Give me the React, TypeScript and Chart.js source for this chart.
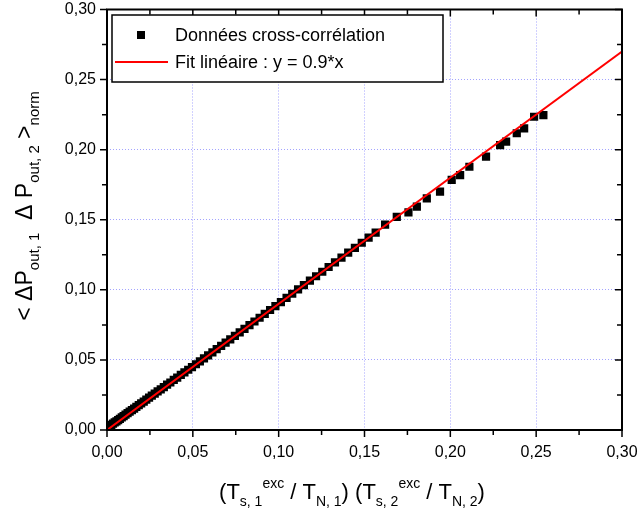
import React, { useEffect, useRef } from 'react';
import { Chart, registerables } from 'chart.js';

Chart.register(...registerables);

// ---- data ----
const dataX = [
  0.0005, 0.0015, 0.0025, 0.0035, 0.0045, 0.0055, 0.0065, 0.0075, 0.0086, 0.0097,
  0.0108, 0.012, 0.0132, 0.0145, 0.0158, 0.0171, 0.0185, 0.0199, 0.0214, 0.0229,
  0.0245, 0.0261, 0.0278, 0.0295, 0.0313, 0.0331, 0.035, 0.0369, 0.0389, 0.0409,
  0.043, 0.0451, 0.0473, 0.0495, 0.0518, 0.0541, 0.0565, 0.0589, 0.0614, 0.0639,
  0.0665, 0.0691, 0.0718, 0.0745, 0.0773, 0.0801, 0.083, 0.0859, 0.0889, 0.0919,
  0.095, 0.0981, 0.1013, 0.1046, 0.1079, 0.1113, 0.1147, 0.1182, 0.1218, 0.1254,
  0.1291, 0.1328, 0.1366, 0.1405, 0.1444, 0.1484, 0.1524, 0.1565, 0.162, 0.1688,
  0.1756, 0.1805, 0.1863, 0.194, 0.2008, 0.2057, 0.2111, 0.2208, 0.229, 0.2325,
  0.2387, 0.243, 0.2488, 0.2542,
];
const dataY = [
  0.002, 0.0028, 0.0037, 0.0045, 0.0054, 0.0062, 0.0071, 0.008, 0.009, 0.0099,
  0.0109, 0.012, 0.0131, 0.0142, 0.0153, 0.0165, 0.0177, 0.019, 0.0203, 0.0216,
  0.0231, 0.0245, 0.026, 0.0275, 0.029, 0.0306, 0.0323, 0.0339, 0.0357, 0.0374,
  0.0393, 0.0411, 0.043, 0.0449, 0.0469, 0.049, 0.0511, 0.0532, 0.0554, 0.0577,
  0.06, 0.0623, 0.0647, 0.0672, 0.0697, 0.0722, 0.0748, 0.0774, 0.0801, 0.0828,
  0.0856, 0.0884, 0.0913, 0.0942, 0.0972, 0.1003, 0.1033, 0.1065, 0.1097, 0.1129,
  0.1163, 0.1196, 0.123, 0.1265, 0.13, 0.1336, 0.1372, 0.1408, 0.1465, 0.152,
  0.1553, 0.1593, 0.1653, 0.17, 0.1784, 0.1819, 0.1878, 0.195, 0.2033, 0.2057,
  0.2117, 0.2152, 0.2235, 0.2247,
];
const fitX = [0, 0.3];
const fitY = [0, 0.27];
const seriesLabels = ['Données cross-corrélation', 'Fit linéaire : y = 0.9*x'];
const axisMin = 0;
const axisMax = 0.3;
const majorStep = 0.05;
const minorStep = 0.025;

type Seg = { t: string; k: 'n' | 'sub' | 'sup' };
const xTitle: Seg[] = [
  { t: '(T', k: 'n' }, { t: 's, 1', k: 'sub' }, { t: 'exc', k: 'sup' },
  { t: ' / T', k: 'n' }, { t: 'N, 1', k: 'sub' }, { t: ') (T', k: 'n' },
  { t: 's, 2', k: 'sub' }, { t: 'exc', k: 'sup' }, { t: ' / T', k: 'n' },
  { t: 'N, 2', k: 'sub' }, { t: ')', k: 'n' },
];
const yTitle: Seg[] = [
  { t: '< ΔP', k: 'n' }, { t: 'out, 1', k: 'sub' }, { t: '  Δ P', k: 'n' },
  { t: 'out, 2', k: 'sub' }, { t: ' >', k: 'n' }, { t: 'norm', k: 'sub' },
];

const FAMILY = "'Liberation Sans', Arial, sans-serif";

function drawRich(ctx: CanvasRenderingContext2D, segs: Seg[], cx: number, cy: number, rot: number, big: number, small: number) {
  const fontFor = (k: string) => `${k === 'n' ? big : small}px ${FAMILY}`;
  let total = 0;
  const widths = segs.map((s) => {
    ctx.font = fontFor(s.k);
    const w = ctx.measureText(s.t).width;
    total += w;
    return w;
  });
  ctx.save();
  ctx.translate(cx, cy);
  ctx.rotate(rot);
  ctx.fillStyle = '#000';
  ctx.textBaseline = 'alphabetic';
  ctx.textAlign = 'left';
  let x = -total / 2;
  segs.forEach((s, i) => {
    ctx.font = fontFor(s.k);
    const dy = s.k === 'sub' ? big * 0.3 : s.k === 'sup' ? -big * 0.5 : 0;
    ctx.fillText(s.t, x, dy);
    x += widths[i];
  });
  ctx.restore();
}

const framePlugin = {
  id: 'frameTicks',
  afterDatasetsDraw(chart: any) {
    const { ctx, chartArea: a, scales } = chart;
    const xs = scales.x;
    const ys = scales.y;
    ctx.save();
    ctx.strokeStyle = '#000';
    ctx.lineWidth = 1.5;
    const n = Math.round((axisMax - axisMin) / minorStep);
    for (let i = 0; i <= n; i++) {
      const v = axisMin + i * minorStep;
      const len = i % Math.round(majorStep / minorStep) === 0 ? 7 : 5;
      const px = xs.getPixelForValue(v);
      const py = ys.getPixelForValue(v);
      ctx.beginPath();
      ctx.moveTo(px, a.bottom); ctx.lineTo(px, a.bottom + len);
      ctx.moveTo(px, a.top); ctx.lineTo(px, a.top + len);
      ctx.moveTo(a.left, py); ctx.lineTo(a.left - len, py);
      ctx.moveTo(a.right, py); ctx.lineTo(a.right - len, py);
      ctx.stroke();
    }
    ctx.lineWidth = 2;
    ctx.strokeRect(a.left, a.top, a.right - a.left, a.bottom - a.top);
    ctx.restore();
  },
  afterDraw(chart: any) {
    const { ctx, chartArea: a } = chart;
    // legend
    const ds = chart.data.datasets;
    const bx = a.left + 5;
    const by = a.top + 5.5;
    const bw = 331;
    const bh = 67;
    ctx.save();
    ctx.fillStyle = '#fff';
    ctx.fillRect(bx, by, bw, bh);
    ctx.strokeStyle = '#000';
    ctx.lineWidth = 1.5;
    ctx.strokeRect(bx, by, bw, bh);
    ctx.font = `18px ${FAMILY}`;
    ctx.textBaseline = 'middle';
    ctx.textAlign = 'left';
    ctx.fillStyle = '#000';
    const r1 = by + 20;
    const r2 = by + 47;
    const pts = ds.find((d: any) => !d.showLine);
    const line = ds.find((d: any) => d.showLine);
    ctx.fillStyle = pts.backgroundColor;
    ctx.fillRect(bx + 25, r1 - 4, 8, 8);
    ctx.fillStyle = '#000';
    ctx.fillText(pts.label, bx + 63, r1 + 1);
    ctx.strokeStyle = line.borderColor;
    ctx.lineWidth = 2;
    ctx.beginPath();
    ctx.moveTo(bx + 3, r2);
    ctx.lineTo(bx + 56, r2);
    ctx.stroke();
    ctx.fillText(line.label, bx + 63, r2 + 1);
    ctx.restore();

    // axis titles
    drawRich(ctx, xTitle, 352, 499, 0, 22, 14);
    drawRich(ctx, yTitle, 32, 206, -Math.PI / 2, 23, 15);
  },
};

const fmt = (v: any) => Number(v).toFixed(2).replace('.', ',');

export default function App() {
  const ref = useRef<HTMLCanvasElement>(null);
  useEffect(() => {
    document.body.style.margin = '0';
    const canvas = ref.current!;
    const gridColor = 'rgba(140,140,255,0.8)';
    const chart = new Chart(canvas, {
      type: 'scatter',
      data: {
        datasets: [
          {
            label: seriesLabels[1],
            data: fitX.map((x, i) => ({ x, y: fitY[i] })),
            showLine: true,
            borderColor: '#ff0000',
            backgroundColor: '#ff0000',
            borderWidth: 2,
            pointRadius: 0,
            order: 0,
          },
          {
            label: seriesLabels[0],
            data: dataX.map((x, i) => ({ x, y: dataY[i] })),
            showLine: false,
            pointStyle: 'rect',
            pointRadius: 5.8,
            backgroundColor: '#000',
            borderColor: '#000',
            borderWidth: 0,
            order: 1,
          },
        ] as any,
      },
      options: {
        responsive: false,
        animation: false,
        layout: { padding: { top: 9.5, right: 16, left: 0, bottom: 0 } },
        plugins: { legend: { display: false }, tooltip: { enabled: false } },
        scales: {
          x: {
            type: 'linear',
            min: axisMin,
            max: axisMax,
            afterFit: (s: any) => {
              s.height = 83;
              s.paddingLeft = 0;
              s.paddingRight = 0;
              s.paddingTop = 0;
              s.paddingBottom = 0;
            },
            grid: { color: gridColor, lineWidth: 1, drawTicks: false },
            border: { display: false, dash: [1, 2] },
            ticks: {
              stepSize: majorStep,
              padding: 13,
              color: '#000',
              font: { family: FAMILY, size: 16 },
              callback: fmt,
              maxRotation: 0,
              autoSkip: false,
            },
          },
          y: {
            type: 'linear',
            min: axisMin,
            max: axisMax,
            afterFit: (s: any) => {
              s.width = 107;
              s.paddingLeft = 0;
              s.paddingRight = 0;
              s.paddingTop = 0;
              s.paddingBottom = 0;
            },
            grid: { color: gridColor, lineWidth: 1, drawTicks: false },
            border: { display: false, dash: [1, 2] },
            ticks: {
              stepSize: majorStep,
              padding: 11,
              color: '#000',
              font: { family: FAMILY, size: 16 },
              callback: fmt,
              autoSkip: false,
            },
          },
        },
      } as any,
      plugins: [framePlugin],
    });
    return () => chart.destroy();
  }, []);
  return <canvas ref={ref} width={638} height={513} style={{ display: 'block', width: 638, height: 513 }} />;
}
